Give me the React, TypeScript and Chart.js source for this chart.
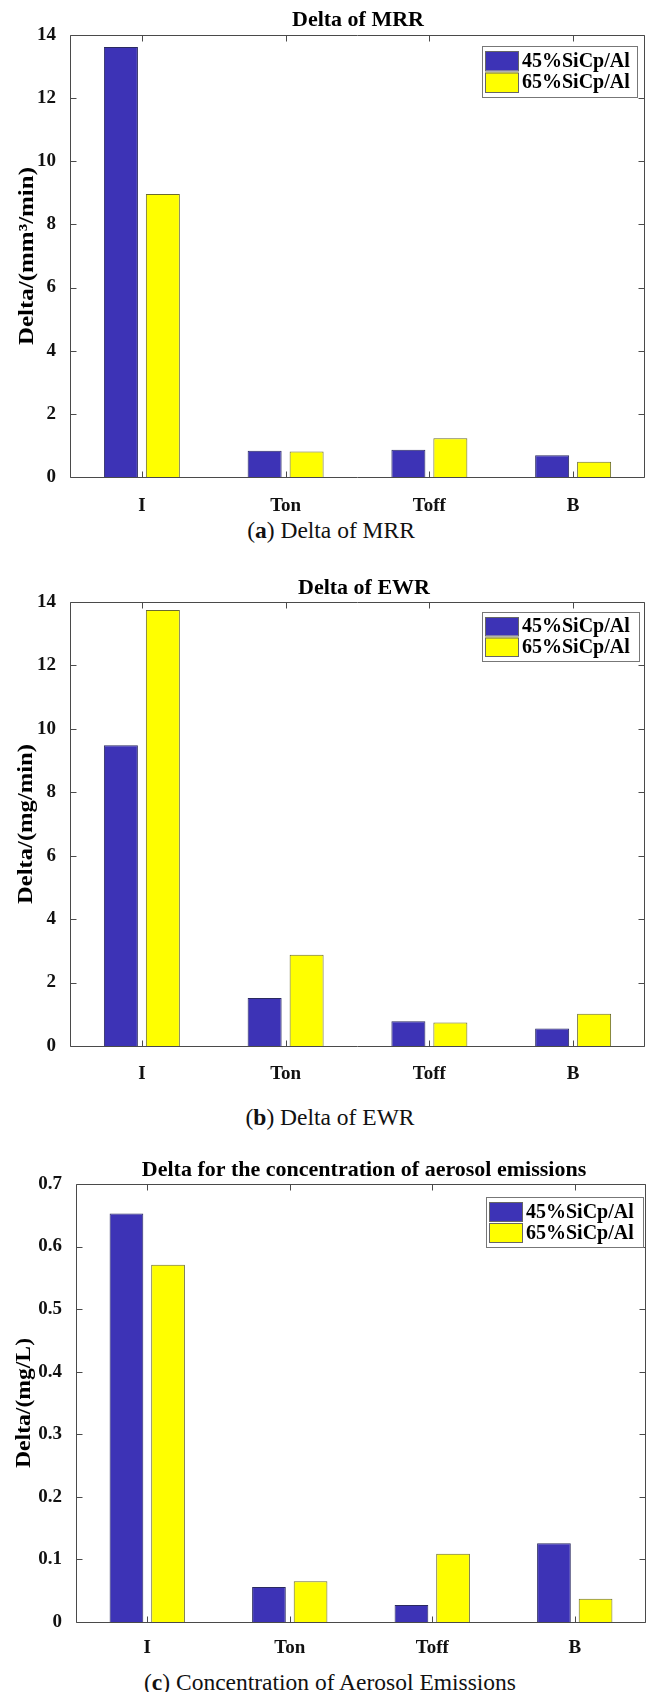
import React, { useEffect, useRef } from "react";
import { Chart, registerables } from "chart.js";

Chart.register(...registerables);

// ---------- data ----------
const categories = ["I", "Ton", "Toff", "B"];
const seriesNames = ["45%SiCp/Al", "65%SiCp/Al"];

const mrr45 = [13.62, 0.83, 0.86, 0.69];
const mrr65 = [8.96, 0.81, 1.23, 0.48];

const ewr45 = [9.48, 1.51, 0.78, 0.55];
const ewr65 = [13.75, 2.88, 0.74, 1.02];

const aer45 = [0.653, 0.056, 0.027, 0.126];
const aer65 = [0.571, 0.065, 0.109, 0.037];

const yTicksMRR = [0, 2, 4, 6, 8, 10, 12, 14];
const yTicksEWR = [0, 2, 4, 6, 8, 10, 12, 14];
const yTicksAER = [0, 0.1, 0.2, 0.3, 0.4, 0.5, 0.6, 0.7];

const BLUE = "#3d33b6";
const YELLOW = "#ffff00";
const FONT = '"Liberation Serif", "Times New Roman", serif';
const TICK_SIZE = 19;

type Cfg = {
  top: number;
  height: number;
  plotTop: number;
  plotBottom: number;
  plotLeft: number;
  plotRight: number;
  labelOffset: number;
  title: string;
  titleX: number;
  titleY: number;
  ylabel: string;
  ylabelX: number;
  ylabelLen: number;
  legend: { x: number; y: number; w: number; h: number };
  a: number[];
  b: number[];
  yTicks: number[];
  decimals: number;
};

const framePlugin = {
  id: "frame",
  afterDatasetsDraw(chart: any, _args: any, opts: any) {
    const { ctx, chartArea: a, scales } = chart;
    const c: Cfg = opts.cfg;
    ctx.save();
    // axes box
    ctx.strokeStyle = "#4a4a4a";
    ctx.lineWidth = 1;
    const L = Math.round(a.left) + 0.5;
    const R = Math.round(a.right) - 0.5;
    const T = Math.round(a.top) + 0.5;
    const B = Math.round(a.bottom) + 0.5;
    ctx.beginPath();
    ctx.rect(L, T, R - L, B - T);
    ctx.stroke();
    // inward ticks
    ctx.beginPath();
    c.yTicks.forEach((v) => {
      const y = Math.round(scales.y.getPixelForValue(v)) + 0.5;
      ctx.moveTo(L, y);
      ctx.lineTo(L + 6, y);
      ctx.moveTo(R, y);
      ctx.lineTo(R - 6, y);
    });
    categories.forEach((_, i) => {
      const x = Math.round(scales.x.getPixelForValue(i)) + 0.5;
      ctx.moveTo(x, B);
      ctx.lineTo(x, B - 6);
      ctx.moveTo(x, T);
      ctx.lineTo(x, T + 6);
    });
    ctx.stroke();

    // title
    ctx.fillStyle = "#000";
    ctx.font = `bold 22px ${FONT}`;
    ctx.textAlign = "center";
    ctx.textBaseline = "middle";
    ctx.fillText(c.title, c.titleX, c.titleY);

    // y label
    ctx.save();
    const cy = (a.top + a.bottom) / 2;
    ctx.translate(c.ylabelX, cy);
    ctx.rotate(-Math.PI / 2);
    ctx.font = `bold 21px ${FONT}`;
    const w = ctx.measureText(c.ylabel).width;
    ctx.scale(c.ylabelLen / w, 1);
    ctx.fillText(c.ylabel, 0, 0);
    ctx.restore();

    // legend
    const lg = c.legend;
    const lx = lg.x;
    const ly = a.top + lg.y;
    ctx.fillStyle = "#fff";
    ctx.fillRect(lx, ly, lg.w, lg.h);
    ctx.strokeStyle = "#777";
    ctx.strokeRect(lx + 0.5, ly + 0.5, lg.w, lg.h);
    const rowH = (lg.h - 8) / 2;
    [BLUE, YELLOW].forEach((col, i) => {
      const sy = ly + 4 + i * rowH;
      ctx.fillStyle = col;
      ctx.fillRect(lx + 3, sy + 1, 33, rowH - 2);
      ctx.strokeStyle = "#666";
      ctx.strokeRect(lx + 3.5, sy + 1.5, 33, rowH - 2);
      ctx.fillStyle = "#000";
      ctx.font = `bold 20px ${FONT}`;
      ctx.textAlign = "left";
      ctx.textBaseline = "middle";
      ctx.fillText(seriesNames[i], lx + 40, sy + rowH / 2 + 1, lg.w - 43);
    });
    ctx.restore();
  },
};

function BarChart({ cfg }: { cfg: Cfg }) {
  const ref = useRef<HTMLCanvasElement | null>(null);
  useEffect(() => {
    if (!ref.current) return;
    const W = 647;
    const chart = new Chart(ref.current, {
      type: "bar",
      data: {
        labels: categories,
        datasets: [
          {
            label: seriesNames[0],
            data: cfg.a,
            backgroundColor: BLUE,
            borderColor: "#2a2a60",
            borderWidth: 1,
            categoryPercentage: 0.584,
            barPercentage: 0.81,
          },
          {
            label: seriesNames[1],
            data: cfg.b,
            backgroundColor: YELLOW,
            borderColor: "#6b6b30",
            borderWidth: 1,
            categoryPercentage: 0.584,
            barPercentage: 0.81,
          },
        ],
      },
      options: {
        responsive: false,
        animation: false,
        devicePixelRatio: 1,
        layout: {
          padding: {
            top: cfg.plotTop - cfg.top,
            left: 0,
            right: W - cfg.plotRight,
            bottom: 0,
          },
        },
        plugins: {
          legend: { display: false },
          tooltip: { enabled: false },
          title: { display: false },
          frame: { cfg },
        } as any,
        scales: {
          x: {
            type: "category",
            offset: true,
            grid: { display: false },
            border: { display: false },
            ticks: {
              color: "#111",
              font: { family: FONT, size: TICK_SIZE, weight: "bold" },
              padding: cfg.labelOffset,
              maxRotation: 0,
              autoSkip: false,
            },
            afterFit: (s: any) => {
              s.height = cfg.top + cfg.height - cfg.plotBottom;
            },
          },
          y: {
            type: "linear",
            min: cfg.yTicks[0],
            max: cfg.yTicks[cfg.yTicks.length - 1],
            grid: { display: false },
            border: { display: false },
            afterBuildTicks: (s: any) => {
              s.ticks = cfg.yTicks.map((v) => ({ value: v }));
            },
            ticks: {
              color: "#111",
              font: { family: FONT, size: TICK_SIZE, weight: "bold" },
              padding: 6,
              callback: (v: any) =>
                Number(v) === 0 ? "0" : Number(v).toFixed(cfg.decimals),
            },
            afterFit: (s: any) => {
              s.width = cfg.plotLeft;
            },
          },
        },
      },
      plugins: [framePlugin],
    });
    return () => chart.destroy();
  }, [cfg]);
  return (
    <canvas
      ref={ref}
      width={647}
      height={cfg.height}
      style={{
        position: "absolute",
        left: 0,
        top: cfg.top,
        width: 647,
        height: cfg.height,
      }}
    />
  );
}

const cfgs: Cfg[] = [
  {
    top: 0,
    height: 512,
    plotTop: 35,
    plotBottom: 477,
    plotLeft: 70,
    plotRight: 645,
    labelOffset: 10,
    title: "Delta of MRR",
    titleX: 358,
    titleY: 20,
    ylabel: "Delta/(mm\u00B3/min)",
    ylabelX: 28,
    ylabelLen: 178,
    legend: { x: 482, y: 11, w: 155, h: 51 },
    a: mrr45,
    b: mrr65,
    yTicks: yTicksMRR,
    decimals: 0,
  },
  {
    top: 560,
    height: 530,
    plotTop: 602,
    plotBottom: 1046,
    plotLeft: 70,
    plotRight: 645,
    labelOffset: 9,
    title: "Delta of EWR",
    titleX: 364,
    titleY: 588 - 560,
    ylabel: "Delta/(mg/min)",
    ylabelX: 27,
    ylabelLen: 160,
    legend: { x: 482, y: 10, w: 157, h: 49 },
    a: ewr45,
    b: ewr65,
    yTicks: yTicksEWR,
    decimals: 0,
  },
  {
    top: 1150,
    height: 510,
    plotTop: 1184,
    plotBottom: 1622,
    plotLeft: 76,
    plotRight: 646,
    labelOffset: 7,
    title: "Delta for the concentration of aerosol emissions",
    titleX: 364,
    titleY: 1170 - 1150,
    ylabel: "Delta/(mg/L)",
    ylabelX: 25,
    ylabelLen: 130,
    legend: { x: 486, y: 13, w: 157, h: 50 },
    a: aer45,
    b: aer65,
    yTicks: yTicksAER,
    decimals: 1,
  },
];

const captions = [
  { tag: "a", text: " Delta of MRR", x: 331, y: 530 },
  { tag: "b", text: " Delta of EWR", x: 330, y: 1117 },
  { tag: "c", text: " Concentration of Aerosol Emissions", x: 330, y: 1682 },
];

export default function App() {
  return (
    <div
      style={{
        position: "absolute",
        left: 0,
        top: 0,
        width: 647,
        height: 1692,
        background: "#fff",
        overflow: "hidden",
      }}
    >
      {cfgs.map((c, i) => (
        <BarChart key={i} cfg={c} />
      ))}
      {captions.map((c, i) => (
        <div
          key={"cap" + i}
          style={{
            position: "absolute",
            left: c.x,
            top: c.y - 14,
            transform: "translateX(-50%)",
            whiteSpace: "nowrap",
            fontFamily: FONT,
            fontSize: 23.5,
            lineHeight: "28px",
            color: "#111",
          }}
        >
          (<b>{c.tag}</b>){c.text}
        </div>
      ))}
    </div>
  );
}
